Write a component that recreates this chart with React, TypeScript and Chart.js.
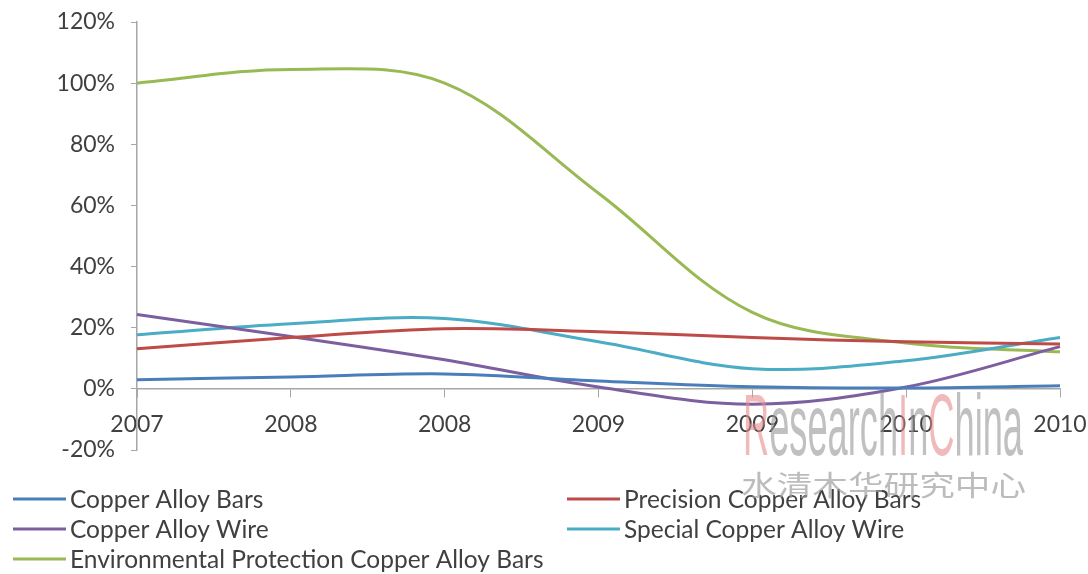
import React, { useEffect, useRef } from 'react';
import { Chart, registerables } from 'chart.js';
Chart.register(...registerables);

const categories = ['2007', '2008', '2008', '2009', '2009', '2010', '2010'];
const seriesNames = [
  'Copper Alloy Bars',
  'Precision Copper Alloy Bars',
  'Copper Alloy Wire',
  'Special Copper Alloy Wire',
  'Environmental Protection Copper Alloy Bars',
];
const copperAlloyBars = [3.0, 3.9, 4.9, 2.6, 0.7, 0.3, 1.0];
const precisionCopperAlloyBars = [13.1, 16.8, 19.7, 18.7, 16.8, 15.4, 14.7];
const copperAlloyWire = [24.3, 17.1, 9.5, 0.6, -5.0, 0.6, 13.8];
const specialCopperAlloyWire = [17.7, 21.3, 23.0, 15.4, 6.6, 9.2, 16.8];
const envProtectionCopperAlloyBars = [100, 104.5, 100, 64, 25, 15, 12.1];
const seriesColors = ['#4a7ebb', '#be4b48', '#7d5fa0', '#4bacc6', '#98b954'];
const yMin = -20;
const yMax = 120;
const yStep = 20;

const FONT = 'Lato, "Open Sans", sans-serif';

const legendPlugin = {
  id: 'customLegend',
  afterDraw(chart: any) {
    const ctx = chart.ctx;
    const slots = [
      { x: 13, y: 499 },
      { x: 567, y: 499 },
      { x: 13, y: 529 },
      { x: 567, y: 529 },
      { x: 13, y: 559 },
    ];
    ctx.save();
    ctx.font = `24.5px ${FONT}`;
    ctx.textBaseline = 'middle';
    ctx.textAlign = 'left';
    chart.data.datasets.forEach((ds: any, i: number) => {
      const s = slots[i];
      ctx.strokeStyle = ds.borderColor;
      ctx.lineWidth = 3;
      ctx.beginPath();
      ctx.moveTo(s.x, s.y);
      ctx.lineTo(s.x + 53, s.y);
      ctx.stroke();
      ctx.fillStyle = '#404040';
      ctx.fillText(ds.label, s.x + 57, s.y + 1);
    });
    ctx.restore();
  },
};

const watermarkPlugin = {
  id: 'watermark',
  afterDraw(chart: any) {
    const ctx = chart.ctx;
    ctx.save();
    const parts = [
      { t: 'R', red: true },
      { t: 'esearch', red: false },
      { t: 'I', red: true },
      { t: 'n', red: false },
      { t: 'C', red: true },
      { t: 'hina', red: false },
    ];
    ctx.font = `88px "Liberation Sans", Arial, sans-serif`;
    const total = parts.reduce((a, p) => a + ctx.measureText(p.t).width, 0);
    const targetW = 280;
    const sx = targetW / total;
    ctx.translate(743, 455);
    ctx.scale(sx, 1);
    ctx.textBaseline = 'alphabetic';
    ctx.textAlign = 'left';
    let x = 0;
    parts.forEach((p) => {
      ctx.fillStyle = p.red ? 'rgba(232,140,140,0.6)' : 'rgba(150,150,150,0.6)';
      ctx.fillText(p.t, x, 0);
      x += ctx.measureText(p.t).width;
    });
    ctx.restore();

    ctx.save();
    ctx.font = `34px "Noto Sans CJK SC", sans-serif`;
    const cn = '水清木华研究中心';
    const w = ctx.measureText(cn).width;
    ctx.translate(741, 496);
    ctx.scale(285 / w, 0.82);
    ctx.fillStyle = 'rgba(160,160,160,0.7)';
    ctx.textBaseline = 'alphabetic';
    ctx.fillText(cn, 0, 0);
    ctx.restore();
  },
};

export default function App() {
  const ref = useRef<HTMLCanvasElement>(null);
  useEffect(() => {
    if (!ref.current) return;
    const values = [
      copperAlloyBars,
      precisionCopperAlloyBars,
      copperAlloyWire,
      specialCopperAlloyWire,
      envProtectionCopperAlloyBars,
    ];
    const chart = new Chart(ref.current, {
      type: 'line',
      data: {
        labels: categories,
        datasets: values.map((v, i) => ({
          label: seriesNames[i],
          data: v,
          borderColor: seriesColors[i],
          backgroundColor: seriesColors[i],
          borderWidth: 3,
          pointRadius: 0,
          tension: 0.35,
          fill: false,
        })),
      },
      options: {
        animation: false,
        responsive: false,
        devicePixelRatio: 1,
        layout: { padding: { top: 22, right: 28, bottom: 124, left: 0 } },
        plugins: {
          legend: { display: false },
          tooltip: { enabled: false },
        },
        scales: {
          x: {
            type: 'category',
            position: { y: 0 } as any,
            offset: false,
            grid: {
              drawOnChartArea: false,
              drawTicks: true,
              tickLength: 8,
              color: '#a6a6a6',
            },
            border: { display: true, color: '#a6a6a6', width: 1.5 },
            ticks: {
              color: '#404040',
              font: { family: FONT, size: 23 },
              padding: 14,
              maxRotation: 0,
              autoSkip: false,
            },
            afterFit: (scale: any) => {
              scale.paddingLeft = 0;
              scale.paddingRight = 0;
            },
          },
          y: {
            min: yMin,
            max: yMax,
            ticks: {
              stepSize: yStep,
              color: '#404040',
              font: { family: FONT, size: 23 },
              padding: 16,
              callback: (v: any) => `${v}%`,
            },
            grid: {
              drawOnChartArea: false,
              drawTicks: true,
              tickLength: 6,
              color: '#a6a6a6',
            },
            border: { display: true, color: '#a6a6a6', width: 1.5 },
            afterFit: (scale: any) => {
              scale.width = 137;
              scale.paddingTop = 0;
              scale.paddingBottom = 0;
            },
          },
        },
      },
      plugins: [legendPlugin, watermarkPlugin],
    });
    return () => chart.destroy();
  }, []);
  return (
    <div style={{ position: 'fixed', left: 0, top: 0, width: 1088, height: 574, background: '#fff' }}>
      <canvas ref={ref} width={1088} height={574} style={{ width: 1088, height: 574 }} />
    </div>
  );
}
